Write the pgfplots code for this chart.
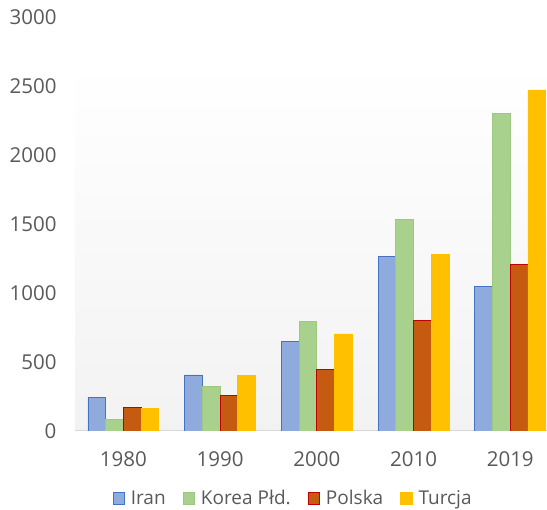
\documentclass[border=0pt]{standalone}
\usepackage{pgfplots}
\pgfplotsset{compat=1.18}
\usepackage{fontspec}
\setmainfont{Open Sans}
\definecolor{txt}{HTML}{595959}
\definecolor{iranf}{HTML}{8FAADC}
\definecolor{irand}{HTML}{4472C4}
\definecolor{koreaf}{HTML}{A9D18E}
\definecolor{koread}{HTML}{9CC97F}
\definecolor{polf}{HTML}{C55A11}
\definecolor{pold}{HTML}{C00000}
\definecolor{turf}{HTML}{FFC000}
\definecolor{axl}{HTML}{D9D9D9}
\begin{document}
\begin{tikzpicture}[x=1pt,y=1pt]
\useasboundingbox (0,0) rectangle (547,510);
\begin{axis}[
  at={(75pt,79pt)}, anchor=south west,
  scale only axis, width=472pt, height=414pt,
  xmin=-0.5, xmax=4.38, ymin=0, ymax=3000,
  ybar=0pt, bar width=17.7pt,
  axis line style={draw=none},
  major tick length=0pt,
  xtick={0,1,2,3,4},
  xticklabels={1980,1990,2000,2010,2019},
  ytick={0,500,1000,1500,2000,2500,3000},
  yticklabels={0,500,1000,1500,2000,2500,3000},
  tick label style={font=\fontsize{20.5}{24}\selectfont, text=txt},
  xticklabel style={yshift=-17pt},
  yticklabel style={xshift=-15pt},
  legend columns=4,
  legend style={at={(axis description cs:0.462,-0.163)}, anchor=center,
    draw=none, fill=none, font=\fontsize{19}{23}\selectfont, text=txt,
    /tikz/every even column/.append style={column sep=15pt},
    /tikz/every odd column/.append style={column sep=4pt}},
  legend image code/.code={\draw[#1, line width=0.75pt] (0pt,-5.5pt) rectangle (11.5pt,6pt);},
  clip=true,
]
\fill[top color=white, bottom color=black!5] (axis cs:-0.5,0) rectangle (axis cs:4.38,2667);
\draw[axl, line width=1pt] (axis cs:-0.5,0) -- (axis cs:4.38,0);
\addplot[fill=iranf, draw=irand, line width=0.75pt] coordinates {(0,246) (1,406) (2,652) (3,1268) (4,1046)};
\addplot[fill=koreaf, draw=koread, line width=0.75pt] coordinates {(0,85) (1,326) (2,792) (3,1534) (4,2302)};
\addplot[fill=polf, draw=pold, line width=0.75pt] coordinates {(0,172) (1,256) (2,449) (3,802) (4,1208)};
\addplot[fill=turf, draw=turf, line width=0.75pt] coordinates {(0,164) (1,401) (2,703) (3,1280) (4,2471)};
\legend{Iran, Korea Płd., Polska, Turcja}
\end{axis}
\end{tikzpicture}
\end{document}
